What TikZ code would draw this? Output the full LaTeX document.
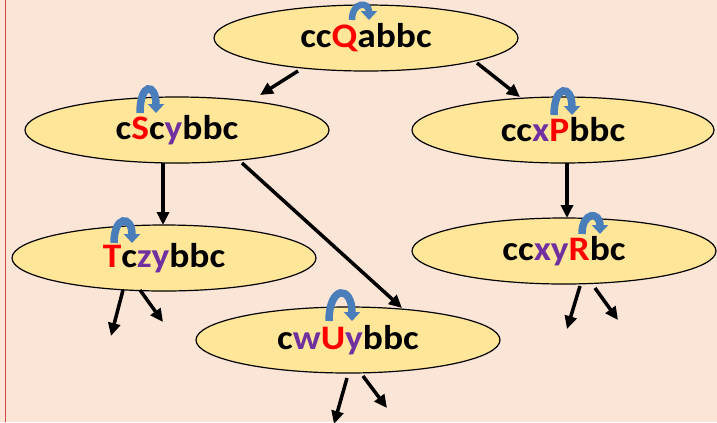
\documentclass[tikz,border=0pt]{standalone}
\usepackage{fontspec}
\usepackage{graphicx}
\setmainfont{Carlito}
\usetikzlibrary{shapes.geometric,arrows.meta,calc}
\definecolor{bg}{HTML}{FBE5D6}
\definecolor{ellfill}{HTML}{FFE699}
\definecolor{rd}{HTML}{FF0000}
\definecolor{pu}{HTML}{7030A0}
\definecolor{bl}{HTML}{4A7EBB}
\definecolor{edgered}{HTML}{D04848}
\newcommand\RD[1]{\textcolor{rd}{#1}}
\newcommand\PU[1]{\textcolor{pu}{#1}}
\newcommand\SX[1]{\scalebox{1.09}[1]{#1}}
\begin{document}
\begin{tikzpicture}[x=1bp,y=-1bp,
  state/.style={ellipse, draw=black, line width=1.2bp, fill=ellfill, inner sep=0pt,
    minimum width=304bp, minimum height=66bp, font=\fontsize{34.5}{34.5}\selectfont\bfseries},
  edge/.style={line width=3.5bp, -{Triangle[length=13bp,width=12bp]}},
  curl/.style={line width=7.5bp, draw=bl, -{Triangle[length=9bp,width=16bp]}}]
\fill[bg] (0,0) rectangle (717,422);
\useasboundingbox (0,0) rectangle (717,422);
\draw[edgered, line width=1bp] (5,0) -- (5,422);

\node[state] (top) at (366,38) {\SX{cc\RD{Q}abbc}};
\node[state] (cs) at (177,130) {\SX{c\RD{S}c\PU{y}bbc}};
\node[state, minimum width=302bp] (cp) at (563,130) {\SX{cc\PU{x}\RD{P}bbc}};
\node[state] (tc) at (164,258) {\SX{\RD{T}c\PU{zy}bbc}};
\node[state] (cw) at (348,340) {\SX{c\PU{w}\RD{U}\PU{y}bbc}};
\node[state] (cr) at (564,251) {\SX{cc\PU{xy}\RD{R}bc}};

% curved arrows
\draw[curl, line width=6.5bp] (352,20) .. controls (352,1.3) and (369,1.3) .. (369,20);
\draw[curl] (140,113) .. controls (140,82.3) and (156,82.3) .. (156,113);
\draw[curl] (554,115) .. controls (554,84.3) and (572,84.3) .. (572,115);
\draw[curl] (114,243) .. controls (114,215) and (132,215) .. (132,243);
\draw[curl] (329,321) .. controls (329,285) and (352,285) .. (352,321);
\draw[curl] (582,234) .. controls (582,211.3) and (600,211.3) .. (600,234);

% connectors
\draw[edge] ($(top)+(-68,33)$) -- ($(cs)+(83,-35)$);
\draw[edge] ($(top)+(111,25)$) -- ($(cp)+(-43,-33)$);
\draw[edge] ($(cs)+(-14,33)$) -- ($(tc)+(-1,-33)$);
\draw[edge] ($(cs)+(65,33)$) -- ($(cw)+(54,-32)$);
\draw[edge] ($(cp)+(4,33)$) -- ($(cr)+(3,-33)$);

\coordinate (t1) at (111,336);
\coordinate (t2) at (163,322);
\coordinate (w1) at (334,424);
\coordinate (w2) at (387,408);
\coordinate (r1) at (567,329);
\coordinate (r2) at (618,320);
\draw[edge] ($(tc)+(-41,32)$) -- (t1);
\draw[edge] ($(tc)+(-24,32)$) -- (t2);
\draw[edge] ($(cw)+(-1,38)$) -- (w1);
\draw[edge] ($(cw)+(15,36)$) -- (w2);
\draw[edge] ($(cr)+(16,35)$) -- (r1);
\draw[edge] ($(cr)+(31,37)$) -- (r2);
\end{tikzpicture}
\end{document}
